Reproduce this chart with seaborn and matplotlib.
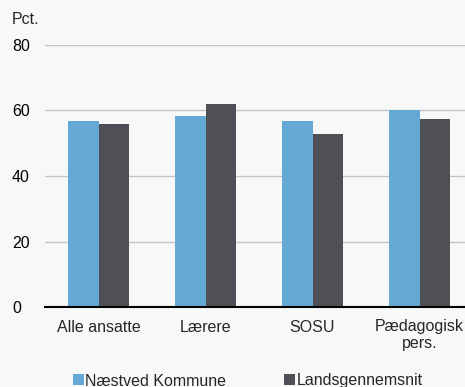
import pandas as pd
import seaborn as sns
import matplotlib.pyplot as plt
from matplotlib.patches import Patch

# data
categories = ["Alle ansatte", "Lærere", "SOSU", "Pædagogisk\npers."]
naestved = [56.8, 58.3, 56.7, 60.3]
landsgns = [55.9, 62.0, 52.8, 57.3]
series = ["Næstved Kommune", "Landsgennemsnit"]
colors = ["#63a9d4", "#4f5055"]

sns.set_style("white")
plt.rcParams['font.family'] = ['Liberation Sans', 'DejaVu Sans']
plt.rcParams['font.size'] = 11.5

rows = []
for c, a, b in zip(categories, naestved, landsgns):
    rows.append({"kategori": c, "serie": series[0], "pct": a})
    rows.append({"kategori": c, "serie": series[1], "pct": b})
df = pd.DataFrame(rows)

bg = "#f7f9f9"
fig = plt.figure(figsize=(4.65, 3.87), dpi=100, facecolor=bg)
ax = fig.add_axes([45 / 465, 1 - 307 / 387, 428 / 465, 262 / 387], facecolor=bg)

sns.barplot(data=df, x="kategori", y="pct", hue="serie", palette=colors,
            width=0.57, gap=0, saturation=1, ax=ax, legend=False, zorder=3,
            linewidth=0, edgecolor="none")

ax.set_ylim(0, 80)
ax.set_xlim(-0.5, 3.5)
ax.set_yticks([0, 20, 40, 60, 80])
ax.yaxis.grid(True, color="#c4c4c4", linewidth=1)
ax.set_axisbelow(True)
for s in ["top", "right", "left"]:
    ax.spines[s].set_visible(False)
ax.spines["bottom"].set_color("black")
ax.spines["bottom"].set_linewidth(1.5)
ax.spines["bottom"].set_zorder(5)
ax.set_xlabel("")
ax.set_ylabel("")
ax.tick_params(axis="y", length=0, pad=0, labelcolor="black")
ax.tick_params(axis="x", which="major", length=0, pad=9)
ax.set_xticks([-0.5, 0.5, 1.5, 2.5, 3.5], minor=True)
ax.tick_params(axis="x", which="minor", length=4, width=1.2, color="black")
for lbl in ax.get_xticklabels():
    lbl.set_linespacing(1.1)
for lbl in ax.get_yticklabels():
    lbl.set_horizontalalignment("left")
    lbl.set_transform(ax.get_yaxis_transform())
    lbl.set_x(-33 / 428)

fig.text(12 / 465, 1 - 19 / 387, "Pct.", fontsize=11.5, va="center", ha="left")

handles = [Patch(facecolor=c, edgecolor="none") for c in colors]
fig.legend(handles, series, loc="center left", bbox_to_anchor=(73 / 465, 1 - 381 / 387),
           ncol=2, frameon=False, handlelength=0.68, handleheight=0.68,
           handletextpad=0.1, columnspacing=3.6, borderaxespad=0, borderpad=0)

fig.savefig("out.png", dpi=100, facecolor=bg)
